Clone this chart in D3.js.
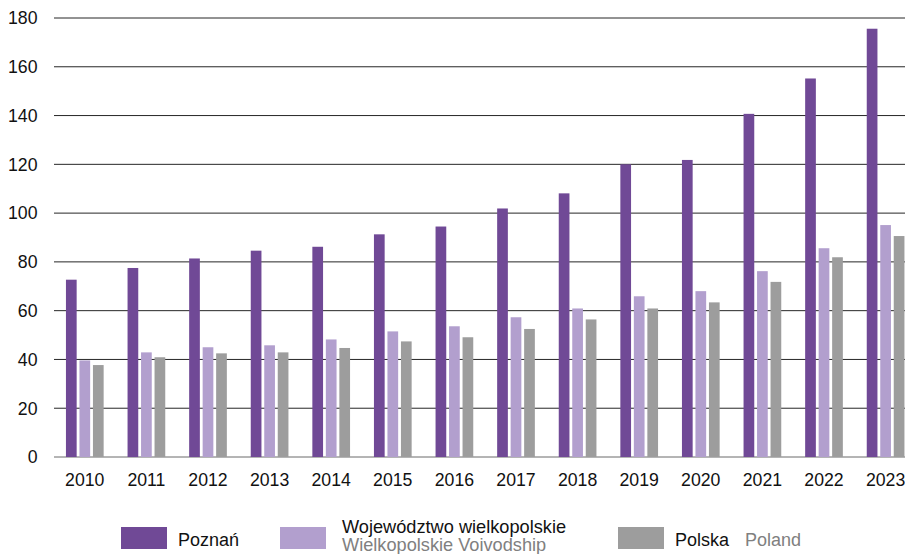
<!DOCTYPE html>
<html>
<head>
<meta charset="utf-8">
<script src="https://cdn.jsdelivr.net/npm/d3@7"></script>
<style>
  body { margin: 0; background: #fff; }
  svg { display: block; font-family: "Liberation Sans", Arial, sans-serif; }
</style>
</head>
<body>
<div class="chart"></div>
<script>
const years = ["2010", "2011", "2012", "2013", "2014", "2015", "2016", "2017", "2018", "2019", "2020", "2021", "2022", "2023"]
const poznan = [72.7, 77.5, 81.4, 84.6, 86.2, 91.3, 94.5, 101.9, 108.1, 120.0, 121.8, 140.7, 155.2, 175.6]
const wielkopolskie = [39.6, 42.9, 45.0, 45.8, 48.2, 51.5, 53.6, 57.3, 60.9, 65.9, 68.0, 76.2, 85.6, 95.1]
const polska = [37.7, 40.9, 42.5, 42.9, 44.7, 47.4, 49.1, 52.5, 56.4, 60.9, 63.4, 71.8, 81.9, 90.6]
const yTicks = [0, 20, 40, 60, 80, 100, 120, 140, 160, 180]

const seriesKeys = ["poznan", "wlkp", "polska"]
const seriesVals = { poznan: poznan, wlkp: wielkopolskie, polska: polska }

var width = 905, height = 554
var margin = {left: 54, top: 18, bottom: 97}

const svg = d3.select(".chart").append("svg")
  .attr("width", width)
  .attr("height", height)

// plot runs a bit past the right edge, like the original
const x0 = d3.scaleBand().domain(years)
  .range([margin.left, margin.left + 14 * 61.6])
  .paddingInner(0.388).paddingOuter(0.194)

const x1 = d3.scaleBand().domain(seriesKeys)
  .range([0, x0.bandwidth()])
  .paddingInner(0.207)

const y = d3.scaleLinear().domain([0, 180]).range([height - margin.bottom, margin.top])

const colors = d3.scaleOrdinal().domain(seriesKeys)
  .range(["#704996", "#b29fce", "#9d9d9d"])

// gridlines
svg.selectAll(".grid").data(yTicks).join("line")
  .attr("class", "grid")
  .attr("x1", margin.left).attr("x2", width)
  .attr("y1", d => y(d)).attr("y2", d => y(d))
  .attr("stroke", d => d == 0 ? "#6a6a6a" : "#262626")
  .attr("stroke-width", 1)

// y labels
svg.selectAll(".ylab").data(yTicks).join("text")
  .attr("class", "ylab")
  .attr("x", 37.5)
  .attr("y", d => y(d) + 6.3)
  .attr("text-anchor", "end")
  .attr("font-size", "17.7px")
  .attr("fill", "#111")
  .text(d => d)

// bars
const groups = svg.selectAll(".grp").data(years).join("g")
  .attr("class", "grp")
  .attr("transform", d => `translate(${x0(d)},0)`)

groups.selectAll("rect")
  .data((d, i) => seriesKeys.map(k => ({key: k, value: seriesVals[k][i]})))
  .join("rect")
  .attr("x", d => x1(d.key))
  .attr("y", d => y(d.value))
  .attr("width", x1.bandwidth())
  .attr("height", d => y(0) - y(d.value))
  .attr("fill", d => colors(d.key))

// year labels
svg.selectAll(".xlab").data(years).join("text")
  .attr("class", "xlab")
  .attr("x", d => x0(d) + x0.bandwidth() / 2)
  .attr("y", 485.5)
  .attr("text-anchor", "middle")
  .attr("font-size", "17.7px")
  .attr("fill", "#111")
  .text(d => d)

// legend
const legendItems = [
  {key: "poznan", x: 121, lines: [["Poznań", "#111"]]},
  {key: "wlkp", x: 280, lines: [["Województwo wielkopolskie", "#111"], ["Wielkopolskie Voivodship", "#808080"]]},
  {key: "polska", x: 618, lines: [["Polska", "#111"], ["Poland", "#808080"]]}
]

const legend = svg.selectAll(".legend").data(legendItems).join("g")
  .attr("class", "legend")

legend.append("rect")
  .attr("x", d => d.x).attr("y", 527)
  .attr("width", 46).attr("height", 22)
  .attr("fill", d => colors(d.key))

legend.each(function(d) {
  var g = d3.select(this)
  if (d.key == "wlkp") {
    g.selectAll("text").data(d.lines).join("text")
      .attr("x", d.x + 62)
      .attr("y", (l, i) => 532.5 + i * 18)
      .attr("font-size", "18.2px")
      .attr("fill", l => l[1])
      .text(l => l[0])
  } else {
    var t = g.append("text")
      .attr("x", d.x + 57)
      .attr("y", 545.7)
      .attr("font-size", "18px")
    t.selectAll("tspan").data(d.lines).join("tspan")
      .attr("dx", (l, i) => i == 0 ? 0 : 16)
      .attr("fill", l => l[1])
      .text(l => l[0])
  }
})
</script>
</body>
</html>
